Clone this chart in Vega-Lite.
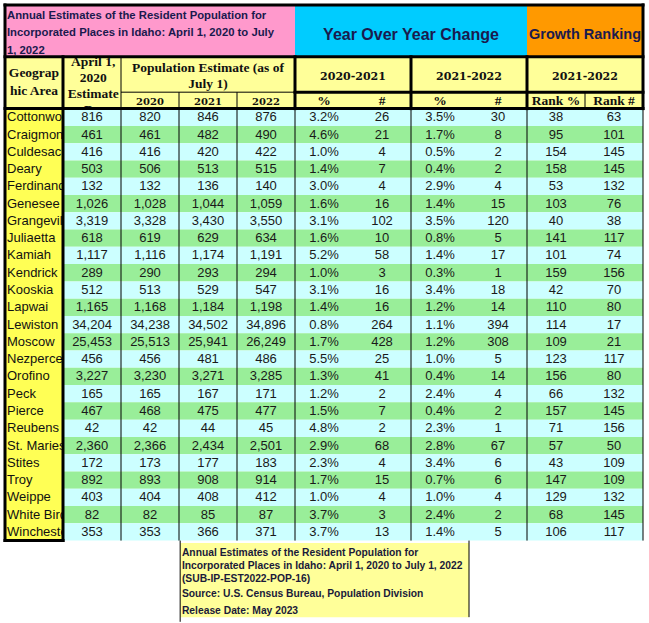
{
"$schema": "https://vega.github.io/schema/vega-lite/v6.json",
"width": 649, "height": 623, "padding": 0,
"autosize": {"type": "fit", "contains": "padding"},
"background": "white",
"config": {"view": {"stroke": null}},
"datasets": {
"rows": [
{"name":"Cottonwood","base":816,"e20":820,"e21":846,"e22":876,"c21p":0.032,"c21n":26,"c22p":0.035,"c22n":30,"rp":38,"rn":63},
{"name":"Craigmont","base":461,"e20":461,"e21":482,"e22":490,"c21p":0.046,"c21n":21,"c22p":0.017,"c22n":8,"rp":95,"rn":101},
{"name":"Culdesac","base":416,"e20":416,"e21":420,"e22":422,"c21p":0.010,"c21n":4,"c22p":0.005,"c22n":2,"rp":154,"rn":145},
{"name":"Deary","base":503,"e20":506,"e21":513,"e22":515,"c21p":0.014,"c21n":7,"c22p":0.004,"c22n":2,"rp":158,"rn":145},
{"name":"Ferdinand","base":132,"e20":132,"e21":136,"e22":140,"c21p":0.030,"c21n":4,"c22p":0.029,"c22n":4,"rp":53,"rn":132},
{"name":"Genesee","base":1026,"e20":1028,"e21":1044,"e22":1059,"c21p":0.016,"c21n":16,"c22p":0.014,"c22n":15,"rp":103,"rn":76},
{"name":"Grangeville","base":3319,"e20":3328,"e21":3430,"e22":3550,"c21p":0.031,"c21n":102,"c22p":0.035,"c22n":120,"rp":40,"rn":38},
{"name":"Juliaetta","base":618,"e20":619,"e21":629,"e22":634,"c21p":0.016,"c21n":10,"c22p":0.008,"c22n":5,"rp":141,"rn":117},
{"name":"Kamiah","base":1117,"e20":1116,"e21":1174,"e22":1191,"c21p":0.052,"c21n":58,"c22p":0.014,"c22n":17,"rp":101,"rn":74},
{"name":"Kendrick","base":289,"e20":290,"e21":293,"e22":294,"c21p":0.010,"c21n":3,"c22p":0.003,"c22n":1,"rp":159,"rn":156},
{"name":"Kooskia","base":512,"e20":513,"e21":529,"e22":547,"c21p":0.031,"c21n":16,"c22p":0.034,"c22n":18,"rp":42,"rn":70},
{"name":"Lapwai","base":1165,"e20":1168,"e21":1184,"e22":1198,"c21p":0.014,"c21n":16,"c22p":0.012,"c22n":14,"rp":110,"rn":80},
{"name":"Lewiston","base":34204,"e20":34238,"e21":34502,"e22":34896,"c21p":0.008,"c21n":264,"c22p":0.011,"c22n":394,"rp":114,"rn":17},
{"name":"Moscow","base":25453,"e20":25513,"e21":25941,"e22":26249,"c21p":0.017,"c21n":428,"c22p":0.012,"c22n":308,"rp":109,"rn":21},
{"name":"Nezperce","base":456,"e20":456,"e21":481,"e22":486,"c21p":0.055,"c21n":25,"c22p":0.010,"c22n":5,"rp":123,"rn":117},
{"name":"Orofino","base":3227,"e20":3230,"e21":3271,"e22":3285,"c21p":0.013,"c21n":41,"c22p":0.004,"c22n":14,"rp":156,"rn":80},
{"name":"Peck","base":165,"e20":165,"e21":167,"e22":171,"c21p":0.012,"c21n":2,"c22p":0.024,"c22n":4,"rp":66,"rn":132},
{"name":"Pierce","base":467,"e20":468,"e21":475,"e22":477,"c21p":0.015,"c21n":7,"c22p":0.004,"c22n":2,"rp":157,"rn":145},
{"name":"Reubens","base":42,"e20":42,"e21":44,"e22":45,"c21p":0.048,"c21n":2,"c22p":0.023,"c22n":1,"rp":71,"rn":156},
{"name":"St. Maries","base":2360,"e20":2366,"e21":2434,"e22":2501,"c21p":0.029,"c21n":68,"c22p":0.028,"c22n":67,"rp":57,"rn":50},
{"name":"Stites","base":172,"e20":173,"e21":177,"e22":183,"c21p":0.023,"c21n":4,"c22p":0.034,"c22n":6,"rp":43,"rn":109},
{"name":"Troy","base":892,"e20":893,"e21":908,"e22":914,"c21p":0.017,"c21n":15,"c22p":0.007,"c22n":6,"rp":147,"rn":109},
{"name":"Weippe","base":403,"e20":404,"e21":408,"e22":412,"c21p":0.010,"c21n":4,"c22p":0.010,"c22n":4,"rp":129,"rn":132},
{"name":"White Bird","base":82,"e20":82,"e21":85,"e22":87,"c21p":0.037,"c21n":3,"c22p":0.024,"c22n":2,"rp":68,"rn":145},
{"name":"Winchester","base":353,"e20":353,"e21":366,"e22":371,"c21p":0.037,"c21n":13,"c22p":0.014,"c22n":5,"rp":106,"rn":117}
],
"hdr": [
{"t":"Geograp","c":0.5,"r":-2.06,"g":"serif"},
{"t":"hic Area","c":0.5,"r":-1.02,"g":"serif"},
{"t":"April 1,","c":1.52,"r":-2.72,"g":"serif"},
{"t":"2020","c":1.52,"r":-1.77,"g":"serif"},
{"t":"Estimate","c":1.52,"r":-0.84,"g":"serif"},
{"t":"s Base","c":1.52,"r":0.08,"g":"serif"},
{"t":"Population Estimate (as of","c":3.5,"r":-2.35,"g":"serif"},
{"t":"July 1)","c":3.5,"r":-1.45,"g":"serif"},
{"t":"%","c":5.5,"r":-0.42,"g":"serif"},
{"t":"#","c":6.5,"r":-0.42,"g":"serif"},
{"t":"%","c":7.5,"r":-0.42,"g":"serif"},
{"t":"#","c":8.5,"r":-0.42,"g":"serif"},
{"t":"Rank %","c":9.5,"r":-0.42,"g":"serif"},
{"t":"Rank #","c":10.5,"r":-0.42,"g":"serif"},
{"t":"2020","c":2.5,"r":-0.36,"g":"year"},
{"t":"2021","c":3.5,"r":-0.36,"g":"year"},
{"t":"2022","c":4.5,"r":-0.36,"g":"year"},
{"t":"2020-2021","c":6,"r":-1.85,"g":"period"},
{"t":"2021-2022","c":8,"r":-1.85,"g":"period"},
{"t":"2021-2022","c":10,"r":-1.85,"g":"period"}
],
"cells": [
{"k":"hdr","c0":0,"c1":11,"r0":-3,"r1":0},
{"k":"geo","c0":0,"c1":1,"r0":0,"r1":25},
{"k":"pink","c0":0,"c1":5,"r0":-6,"r1":-3},
{"k":"sky","c0":5,"c1":9,"r0":-6,"r1":-3},
{"k":"orange","c0":9,"c1":11,"r0":-6,"r1":-3},
{"k":"note","c0":3.02,"c1":8,"r0":25.14,"r1":29.43}
],
"thick": [
{"x":0,"x2":11,"y":-6,"y2":-6},
{"x":0,"x2":11,"y":-3,"y2":-3},
{"x":0,"x2":11,"y":0,"y2":0},
{"x":5,"x2":11,"y":-0.95,"y2":-0.95},
{"x":0,"x2":0,"y":-6,"y2":25},
{"x":1,"x2":1,"y":-3,"y2":25},
{"x":0,"x2":1,"y":25,"y2":25},
{"x":5,"x2":5,"y":-3,"y2":0},
{"x":7,"x2":7,"y":-3,"y2":0},
{"x":9,"x2":9,"y":-3,"y2":0},
{"x":11,"x2":11,"y":-6,"y2":0}
],
"thin": [
{"x":2,"x2":2,"y":-3,"y2":25},
{"x":3,"x2":3,"y":-0.95,"y2":25},
{"x":4,"x2":4,"y":-0.95,"y2":25},
{"x":5,"x2":5,"y":0,"y2":25},
{"x":7,"x2":7,"y":0,"y2":25},
{"x":9,"x2":9,"y":0,"y2":25},
{"x":11,"x2":11,"y":0,"y2":25},
{"x":2,"x2":5,"y":-0.95,"y2":-0.95},
{"x":10,"x2":10,"y":-0.95,"y2":0},
{"x":3.02,"x2":3.02,"y":25,"y2":29.7},
{"x":8,"x2":8,"y":25,"y2":29.43}
],
"one": [{}]
},
"layer": [
{
"data": {"name": "cells"},
"transform": [{"filter": "datum.k == 'hdr' || datum.k == 'geo'"}],
"mark": {"type": "rect"},
"encoding": {
"x": {"field": "c0", "type": "quantitative", "scale": {"domain": [-0.0862, 11.1034], "nice": false, "zero": false}, "axis": null},
"x2": {"field": "c1"},
"y": {"field": "r0", "type": "quantitative", "scale": {"domain": [-6.285, 29.769], "nice": false, "zero": false, "reverse": true}, "axis": null},
"y2": {"field": "r1"},
"fill": {"field": "k", "type": "nominal", "legend": null, "scale": {"domain": ["odd","even","hdr","geo","pink","sky","orange","note"], "range": ["#CCFFFF","#99EE99","#FFFF99","#FFFF55","#FF99CC","#00CCFF","#FF9900","#FFFF99"]}}
}
},
{
"data": {"name": "hdr"},
"transform": [{"filter": "datum.g == 'serif'"}],
"mark": {"type": "text", "font": "Liberation Serif", "fontWeight": "bold", "fontSize": 13.5, "color": "#111111", "baseline": "middle", "align": "center"},
"encoding": {
"x": {"field": "c", "type": "quantitative", "scale": {"domain": [-0.0862, 11.1034], "nice": false, "zero": false}, "axis": null},
"y": {"field": "r", "type": "quantitative", "scale": {"domain": [-6.285, 29.769], "nice": false, "zero": false, "reverse": true}, "axis": null},
"text": {"field": "t", "type": "nominal"}
}
},
{
"data": {"name": "hdr"},
"transform": [{"filter": "datum.g == 'year'"}],
"mark": {"type": "text", "font": "DejaVu Serif", "fontWeight": "bold", "fontSize": 10, "color": "#111111", "baseline": "middle", "align": "center"},
"encoding": {
"x": {"field": "c", "type": "quantitative", "scale": {"domain": [-0.0862, 11.1034], "nice": false, "zero": false}, "axis": null},
"y": {"field": "r", "type": "quantitative", "scale": {"domain": [-6.285, 29.769], "nice": false, "zero": false, "reverse": true}, "axis": null},
"text": {"field": "t", "type": "nominal"}
}
},
{
"data": {"name": "hdr"},
"transform": [{"filter": "datum.g == 'period'"}],
"mark": {"type": "text", "font": "DejaVu Serif", "fontWeight": "bold", "fontSize": 11, "color": "#111111", "baseline": "middle", "align": "center"},
"encoding": {
"x": {"field": "c", "type": "quantitative", "scale": {"domain": [-0.0862, 11.1034], "nice": false, "zero": false}, "axis": null},
"y": {"field": "r", "type": "quantitative", "scale": {"domain": [-6.285, 29.769], "nice": false, "zero": false, "reverse": true}, "axis": null},
"text": {"field": "t", "type": "nominal"}
}
},
{
"data": {"name": "rows"},
"transform": [{"window": [{"op": "row_number", "as": "i"}]}, {"calculate": "datum.i - 0.5", "as": "cy"}],
"mark": {"type": "text", "font": "Liberation Sans", "fontSize": 13, "color": "#111111", "baseline": "middle", "align": "left", "dx": 2},
"encoding": {
"x": {"datum": 0, "type": "quantitative", "scale": {"domain": [-0.0862, 11.1034], "nice": false, "zero": false}, "axis": null},
"y": {"field": "cy", "type": "quantitative", "scale": {"domain": [-6.285, 29.769], "nice": false, "zero": false, "reverse": true}, "axis": null},
"text": {"field": "name", "type": "nominal"}
}
},
{
"data": {"name": "rows"},
"transform": [{"window": [{"op": "row_number", "as": "i"}]}, {"calculate": "datum.i - 1", "as": "r0"}, {"calculate": "datum.i % 2 == 1 ? 'odd' : 'even'", "as": "band"}],
"mark": {"type": "rect"},
"encoding": {
"x": {"datum": 1, "type": "quantitative", "scale": {"domain": [-0.0862, 11.1034], "nice": false, "zero": false}, "axis": null},
"x2": {"datum": 11},
"y": {"field": "r0", "type": "quantitative", "scale": {"domain": [-6.285, 29.769], "nice": false, "zero": false, "reverse": true}, "axis": null},
"y2": {"field": "i"},
"fill": {"field": "band", "type": "nominal", "legend": null, "scale": {"domain": ["odd","even","hdr","geo","pink","sky","orange","note"], "range": ["#CCFFFF","#99EE99","#FFFF99","#FFFF55","#FF99CC","#00CCFF","#FF9900","#FFFF99"]}}
}
},
{
"data": {"name": "cells"},
"transform": [{"filter": "datum.k != 'hdr' && datum.k != 'geo'"}],
"mark": {"type": "rect"},
"encoding": {
"x": {"field": "c0", "type": "quantitative", "scale": {"domain": [-0.0862, 11.1034], "nice": false, "zero": false}, "axis": null},
"x2": {"field": "c1"},
"y": {"field": "r0", "type": "quantitative", "scale": {"domain": [-6.285, 29.769], "nice": false, "zero": false, "reverse": true}, "axis": null},
"y2": {"field": "r1"},
"fill": {"field": "k", "type": "nominal", "legend": null, "scale": {"domain": ["odd","even","hdr","geo","pink","sky","orange","note"], "range": ["#CCFFFF","#99EE99","#FFFF99","#FFFF55","#FF99CC","#00CCFF","#FF9900","#FFFF99"]}}
}
},
{
"data": {"name": "one"},
"mark": {"type": "text", "text": ["Annual Estimates of the Resident Population for", "Incorporated Places in Idaho: April 1, 2020 to July", "1, 2022"], "font": "Liberation Sans", "fontWeight": "bold", "fontSize": 11.3, "lineHeight": 17.5, "color": "#1A1A4E", "baseline": "middle", "align": "left"},
"encoding": {
"x": {"datum": 0.034, "type": "quantitative", "scale": {"domain": [-0.0862, 11.1034], "nice": false, "zero": false}, "axis": null},
"y": {"datum": -5.36, "type": "quantitative", "scale": {"domain": [-6.285, 29.769], "nice": false, "zero": false, "reverse": true}, "axis": null}
}
},
{
"data": {"name": "one"},
"mark": {"type": "text", "text": "Year Over Year Change", "font": "Liberation Sans", "fontWeight": "bold", "fontSize": 16, "color": "#1A1A4E", "baseline": "middle", "align": "center"},
"encoding": {
"x": {"datum": 7, "type": "quantitative", "scale": {"domain": [-0.0862, 11.1034], "nice": false, "zero": false}, "axis": null},
"y": {"datum": -4.28, "type": "quantitative", "scale": {"domain": [-6.285, 29.769], "nice": false, "zero": false, "reverse": true}, "axis": null}
}
},
{
"data": {"name": "one"},
"mark": {"type": "text", "text": "Growth Ranking", "font": "Liberation Sans", "fontWeight": "bold", "fontSize": 14.5, "color": "#1A1A4E", "baseline": "middle", "align": "center"},
"encoding": {
"x": {"datum": 10, "type": "quantitative", "scale": {"domain": [-0.0862, 11.1034], "nice": false, "zero": false}, "axis": null},
"y": {"datum": -4.28, "type": "quantitative", "scale": {"domain": [-6.285, 29.769], "nice": false, "zero": false, "reverse": true}, "axis": null}
}
},
{
"data": {"name": "rows"},
"transform": [{"window": [{"op": "row_number", "as": "i"}]}, {"fold": ["base","e20","e21","e22","c21n","c22n","rp","rn"]}, {"calculate": "indexof(['name','base','e20','e21','e22','c21p','c21n','c22p','c22n','rp','rn'], datum.key) + 0.5", "as": "cx"}, {"calculate": "datum.i - 0.5", "as": "cy"}],
"mark": {"type": "text", "font": "Liberation Sans", "fontSize": 13, "color": "#1A1A1A", "baseline": "middle", "align": "center"},
"encoding": {
"x": {"field": "cx", "type": "quantitative", "scale": {"domain": [-0.0862, 11.1034], "nice": false, "zero": false}, "axis": null},
"y": {"field": "cy", "type": "quantitative", "scale": {"domain": [-6.285, 29.769], "nice": false, "zero": false, "reverse": true}, "axis": null},
"text": {"field": "value", "type": "quantitative", "format": ","}
}
},
{
"data": {"name": "rows"},
"transform": [{"window": [{"op": "row_number", "as": "i"}]}, {"fold": ["c21p","c22p"]}, {"calculate": "indexof(['name','base','e20','e21','e22','c21p','c21n','c22p','c22n','rp','rn'], datum.key) + 0.5", "as": "cx"}, {"calculate": "datum.i - 0.5", "as": "cy"}],
"mark": {"type": "text", "font": "Liberation Sans", "fontSize": 13, "color": "#1A1A1A", "baseline": "middle", "align": "center"},
"encoding": {
"x": {"field": "cx", "type": "quantitative", "scale": {"domain": [-0.0862, 11.1034], "nice": false, "zero": false}, "axis": null},
"y": {"field": "cy", "type": "quantitative", "scale": {"domain": [-6.285, 29.769], "nice": false, "zero": false, "reverse": true}, "axis": null},
"text": {"field": "value", "type": "quantitative", "format": ".1%"}
}
},
{
"data": {"name": "one"},
"mark": {"type": "text", "text": ["Annual Estimates of the Resident Population for", "Incorporated Places in Idaho: April 1, 2020 to July 1, 2022", "(SUB-IP-EST2022-POP-16)"], "font": "Liberation Sans", "fontWeight": "bold", "fontSize": 10.3, "lineHeight": 13, "color": "#1A1A3A", "baseline": "middle", "align": "left"},
"encoding": {
"x": {"datum": 3.05, "type": "quantitative", "scale": {"domain": [-0.0862, 11.1034], "nice": false, "zero": false}, "axis": null},
"y": {"datum": 25.72, "type": "quantitative", "scale": {"domain": [-6.285, 29.769], "nice": false, "zero": false, "reverse": true}, "axis": null}
}
},
{
"data": {"name": "one"},
"mark": {"type": "text", "text": ["Source: U.S. Census Bureau, Population Division", "Release Date: May 2023"], "font": "Liberation Sans", "fontWeight": "bold", "fontSize": 10.3, "lineHeight": 17, "color": "#1A1A3A", "baseline": "middle", "align": "left"},
"encoding": {
"x": {"datum": 3.05, "type": "quantitative", "scale": {"domain": [-0.0862, 11.1034], "nice": false, "zero": false}, "axis": null},
"y": {"datum": 28.1, "type": "quantitative", "scale": {"domain": [-6.285, 29.769], "nice": false, "zero": false, "reverse": true}, "axis": null}
}
},
{
"data": {"name": "thick"},
"mark": {"type": "rule", "color": "#000000", "strokeWidth": 3, "strokeCap": "square"},
"encoding": {
"x": {"field": "x", "type": "quantitative", "scale": {"domain": [-0.0862, 11.1034], "nice": false, "zero": false}, "axis": null},
"x2": {"field": "x2"},
"y": {"field": "y", "type": "quantitative", "scale": {"domain": [-6.285, 29.769], "nice": false, "zero": false, "reverse": true}, "axis": null},
"y2": {"field": "y2"}
}
},
{
"data": {"name": "thin"},
"mark": {"type": "rule", "color": "#000000", "strokeWidth": 1},
"encoding": {
"x": {"field": "x", "type": "quantitative", "scale": {"domain": [-0.0862, 11.1034], "nice": false, "zero": false}, "axis": null},
"x2": {"field": "x2"},
"y": {"field": "y", "type": "quantitative", "scale": {"domain": [-6.285, 29.769], "nice": false, "zero": false, "reverse": true}, "axis": null},
"y2": {"field": "y2"}
}
}
]
}
